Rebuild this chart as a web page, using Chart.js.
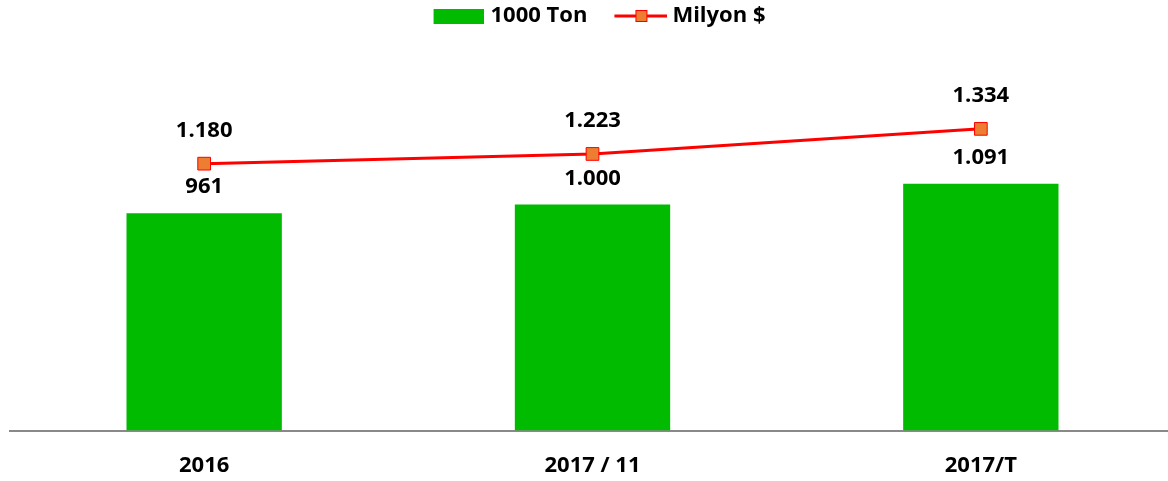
<!DOCTYPE html>
<html>
<head>
<meta charset="utf-8">
<script src="https://cdn.jsdelivr.net/npm/chart.js@4.4.1/dist/chart.umd.min.js"></script>
<style>
  html, body { margin: 0; padding: 0; background: #fff; overflow: hidden; width: 1168px; height: 481px; }
  #c { position: absolute; left: 0; top: -19px; width: 1185px; height: 520px; display: block; }
</style>
</head>
<body>
<canvas id="c" width="1185" height="520"></canvas>
<script>
const categories = ['2016', '2017 / 11', '2017/T'];
const tonValues = [961, 1000, 1091];
const usdValues = [1180, 1223, 1334];
const seriesNames = ['1000 Ton', 'Milyon $'];

const GREEN = 'rgb(0,187,0)';
const RED = '#FF0000';
const ORANGE = '#ED7D31';
const FONT = '"Open Sans"';

function fmt(v) {
  return String(v).replace(/\B(?=(\d{3})+(?!\d))/g, '.');
}

function barIcon() {
  const c = document.createElement('canvas');
  c.width = 58; c.height = 15;
  const x = c.getContext('2d');
  x.fillStyle = GREEN;
  x.fillRect(8, 0, 50, 15);
  return c;
}
function lineIcon() {
  const c = document.createElement('canvas');
  c.width = 62; c.height = 14;
  const x = c.getContext('2d');
  x.strokeStyle = RED; x.lineWidth = 3;
  x.beginPath(); x.moveTo(9, 7); x.lineTo(62, 7); x.stroke();
  x.fillStyle = ORANGE;
  x.fillRect(30, 1, 12, 12);
  x.strokeStyle = RED; x.lineWidth = 1;
  x.strokeRect(30.5, 1.5, 11, 11);
  return c;
}
const icons = [barIcon(), lineIcon()];

const labelPlugin = {
  id: 'valueLabels',
  afterDatasetsDraw(chart) {
    const ctx = chart.ctx;
    ctx.save();
    ctx.font = 'bold 22px ' + FONT;
    ctx.fillStyle = '#000';
    ctx.textAlign = 'center';
    ctx.textBaseline = 'middle';
    chart.data.datasets.forEach((ds, di) => {
      const meta = chart.getDatasetMeta(di);
      meta.data.forEach((el, i) => {
        const off = ds.type === 'line' ? 33 : 26;
        ctx.fillText(fmt(ds.data[i]), el.x, el.y - off);
      });
    });
    ctx.restore();
  }
};

new Chart(document.getElementById('c'), {
  data: {
    labels: categories,
    datasets: [
      {
        type: 'line',
        label: seriesNames[1],
        data: usdValues,
        borderColor: RED,
        borderWidth: 3,
        pointStyle: 'rect',
        pointRadius: 9,
        pointHoverRadius: 9,
        pointBackgroundColor: ORANGE,
        pointBorderColor: RED,
        pointBorderWidth: 1,
        tension: 0,
        fill: false
      },
      {
        type: 'bar',
        label: seriesNames[0],
        data: tonValues,
        backgroundColor: GREEN,
        barPercentage: 0.4,
        categoryPercentage: 1.0
      }
    ]
  },
  options: {
    responsive: false,
    animation: false,
    layout: { padding: { left: 10, right: 0, top: 0, bottom: 0 } },
    plugins: {
      tooltip: { enabled: false },
      legend: {
        position: 'top',
        labels: {
          usePointStyle: true,
          pointStyleWidth: 50,
          padding: 24,
          color: '#000',
          font: { family: FONT, size: 22, weight: 'bold' },
          generateLabels(chart) {
            return [1, 0].map((di, k) => ({
              text: chart.data.datasets[di].label,
              datasetIndex: di,
              pointStyle: icons[k],
              fillStyle: 'transparent',
              strokeStyle: 'transparent',
              lineWidth: 0,
              fontColor: '#000',
              hidden: false
            }));
          }
        }
      }
    },
    scales: {
      x: {
        grid: { display: false, drawTicks: false },
        border: { display: true, color: '#898989', width: 2 },
        ticks: {
          padding: 22,
          color: '#000',
          font: { family: FONT, size: 22, weight: 'bold' }
        }
      },
      y: {
        display: false,
        min: 0,
        max: 1740
      }
    }
  },
  plugins: [labelPlugin]
});
</script>
</body>
</html>
